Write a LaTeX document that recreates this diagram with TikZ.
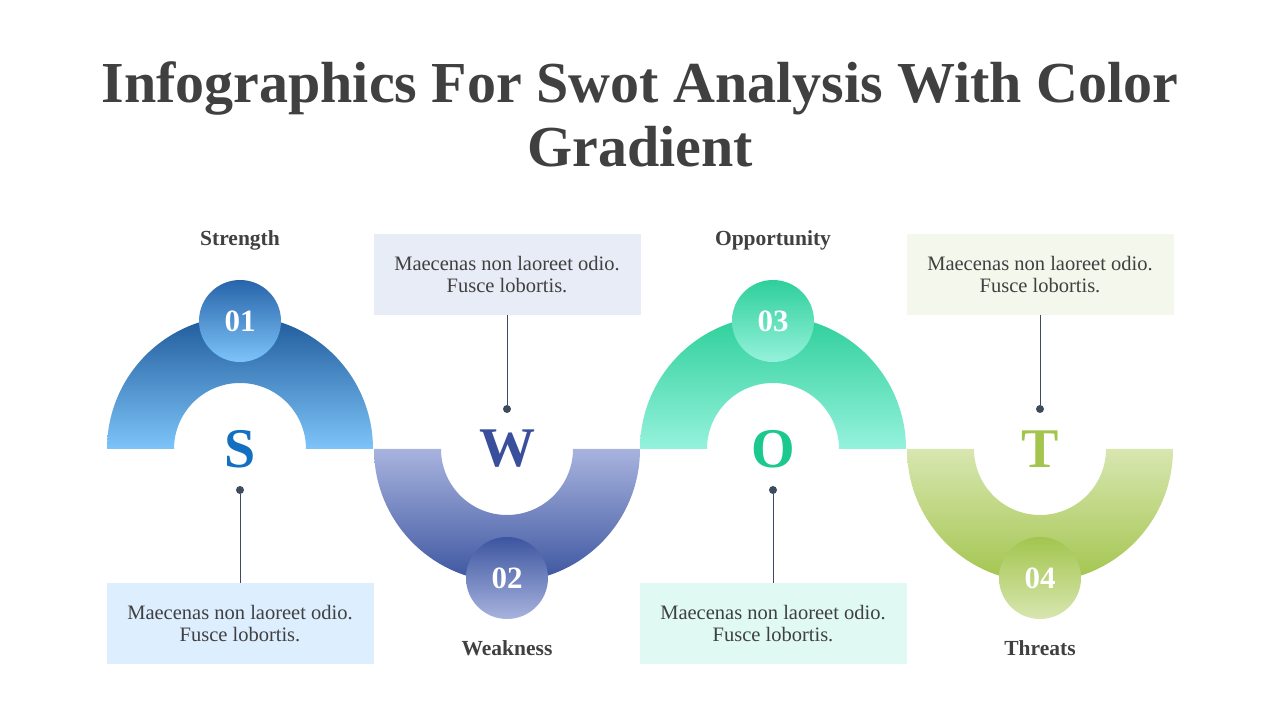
\documentclass[tikz,border=0pt]{standalone}
\usepackage{fontspec}
\setmainfont{Liberation Serif}
\usetikzlibrary{positioning}
\definecolor{ink}{HTML}{404040}
\definecolor{pin}{HTML}{3E4A5E}
\tikzset{
  numdot/.style={circle,minimum size=82pt,inner sep=0pt,text=white,font=\fontsize{31}{32}\selectfont\bfseries},
  letter/.style={font=\fontsize{56}{60}\selectfont\bfseries},
  heading/.style={text=ink,font=\fontsize{21.5}{24}\selectfont\bfseries},
  infobox/.style={minimum width=267pt,minimum height=81pt,inner sep=0pt,align=center,text=ink,font=\fontsize{20.5}{22}\selectfont},
  pindot/.style={circle,fill=pin,minimum size=8pt,inner sep=0pt},
  pinline/.style={draw=pin,line width=0.8pt}
}
\begin{document}
\begin{tikzpicture}[x=1pt,y=1pt]
  \useasboundingbox (0,0) rectangle (1280,720);
  % title
  \node[text=ink,font=\fontsize{58}{64}\selectfont\bfseries,align=center] (title) at (640,606)
    {Infographics For Swot Analysis With Color\\Gradient};
  % half rings
  \shade[top color={rgb,255:red,31;green,90;blue,154},bottom color={rgb,255:red,125;green,196;blue,249}]
    (107,271) arc[start angle=180,end angle=0,radius=133] -- (306,271) arc[start angle=0,end angle=180,radius=66] -- cycle;
  \shade[top color={rgb,255:red,168;green,179;blue,222},bottom color={rgb,255:red,60;green,85;blue,160}]
    (374,271) arc[start angle=180,end angle=360,radius=133] -- (573,271) arc[start angle=360,end angle=180,radius=66] -- cycle;
  \shade[top color={rgb,255:red,46;green,207;blue,154},bottom color={rgb,255:red,149;green,242;blue,220}]
    (640,271) arc[start angle=180,end angle=0,radius=133] -- (839,271) arc[start angle=0,end angle=180,radius=66] -- cycle;
  \shade[top color={rgb,255:red,216;green,230;blue,176},bottom color={rgb,255:red,163;green,197;blue,78}]
    (907,271) arc[start angle=180,end angle=360,radius=133] -- (1106,271) arc[start angle=360,end angle=180,radius=66] -- cycle;
  % number circles
  \node[numdot,top color={rgb,255:red,40;green,100;blue,170},bottom color={rgb,255:red,125;green,196;blue,249}] (n1) at (240,399) {01};
  \node[numdot,top color={rgb,255:red,60;green,85;blue,160},bottom color={rgb,255:red,168;green,179;blue,222}] (n2) at (507,142) {02};
  \node[numdot,top color={rgb,255:red,46;green,207;blue,154},bottom color={rgb,255:red,149;green,242;blue,220}] (n3) at (773,399) {03};
  \node[numdot,top color={rgb,255:red,163;green,197;blue,78},bottom color={rgb,255:red,216;green,230;blue,176}] (n4) at (1040,142) {04};
  % letters
  \node[letter,text={rgb,255:red,19;green,112;blue,192}] (ls) at (240,271) {S};
  \node[letter,text={rgb,255:red,58;green,79;blue,156}] (lw) at (507,271) {W};
  \node[letter,text={rgb,255:red,27;green,201;blue,142}] (lo) at (773,271) {O};
  \node[letter,text={rgb,255:red,163;green,197;blue,78}] (lt) at (1040,271) {T};
  % headings
  \node[heading] (hs) at (240,480) {Strength};
  \node[heading] (hw) at (507,72) {Weakness};
  \node[heading] (ho) at (773,480) {Opportunity};
  \node[heading] (ht) at (1040,72) {Threats};
  % boxes
  \node[infobox,fill={rgb,255:red,221;green,238;blue,255}] (bs) at (240,96.5) {Maecenas non laoreet odio.\\Fusce lobortis.};
  \node[infobox,fill={rgb,255:red,232;green,236;blue,247}] (bw) at (507,445.5) {Maecenas non laoreet odio.\\Fusce lobortis.};
  \node[infobox,fill={rgb,255:red,224;green,250;blue,243}] (bo) at (773,96.5) {Maecenas non laoreet odio.\\Fusce lobortis.};
  \node[infobox,fill={rgb,255:red,244;green,248;blue,236}] (bt) at (1040,445.5) {Maecenas non laoreet odio.\\Fusce lobortis.};
  % pins
  \node[pindot] (ps) at (240,230) {};
  \node[pindot] (pw) at (507,311) {};
  \node[pindot] (po) at (773,230) {};
  \node[pindot] (pt) at (1040,311) {};
  \draw[pinline] (ps) -- (bs.north);
  \draw[pinline] (pw) -- (bw.south);
  \draw[pinline] (po) -- (bo.north);
  \draw[pinline] (pt) -- (bt.south);
\end{tikzpicture}
\end{document}
